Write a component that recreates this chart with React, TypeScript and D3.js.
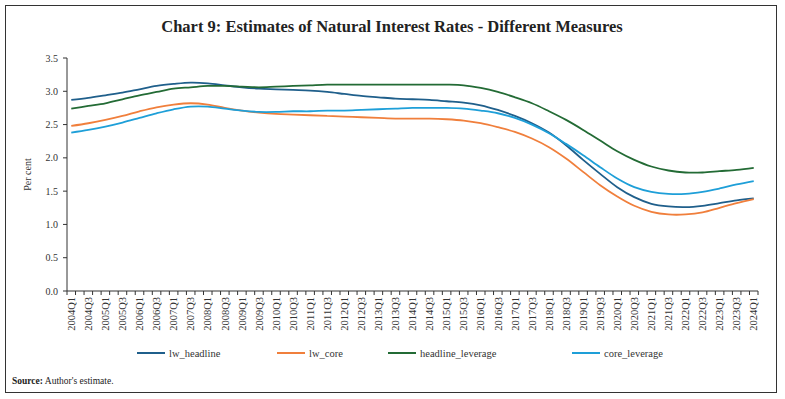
import React from "react";
import * as d3 from "d3";

// quarterly categories on the x axis
const quarters: string[] = [
  "2004Q1","2004Q2","2004Q3","2004Q4","2005Q1","2005Q2","2005Q3","2005Q4",
  "2006Q1","2006Q2","2006Q3","2006Q4","2007Q1","2007Q2","2007Q3","2007Q4",
  "2008Q1","2008Q2","2008Q3","2008Q4","2009Q1","2009Q2","2009Q3","2009Q4",
  "2010Q1","2010Q2","2010Q3","2010Q4","2011Q1","2011Q2","2011Q3","2011Q4",
  "2012Q1","2012Q2","2012Q3","2012Q4","2013Q1","2013Q2","2013Q3","2013Q4",
  "2014Q1","2014Q2","2014Q3","2014Q4","2015Q1","2015Q2","2015Q3","2015Q4",
  "2016Q1","2016Q2","2016Q3","2016Q4","2017Q1","2017Q2","2017Q3","2017Q4",
  "2018Q1","2018Q2","2018Q3","2018Q4","2019Q1","2019Q2","2019Q3","2019Q4",
  "2020Q1","2020Q2","2020Q3","2020Q4","2021Q1","2021Q2","2021Q3","2021Q4",
  "2022Q1","2022Q2","2022Q3","2022Q4","2023Q1","2023Q2","2023Q3","2023Q4",
  "2024Q1",
];

// labelled quarters (every second one) - the series below are read at these
const labelQuarters = quarters.filter((_, i) => i % 2 === 0);

const lwHeadline = [
  2.87, 2.90, 2.94, 2.98, 3.03, 3.08, 3.11, 3.13, 3.12, 3.09,
  3.06, 3.04, 3.03, 3.02, 3.01, 2.99, 2.96, 2.93, 2.91, 2.89,
  2.88, 2.87, 2.85, 2.83, 2.79, 2.72, 2.63, 2.52, 2.38, 2.19,
  1.97, 1.76, 1.56, 1.41, 1.31, 1.27, 1.26, 1.28, 1.32, 1.36,
  1.39,
];

const lwCore = [
  2.48, 2.52, 2.57, 2.63, 2.70, 2.76, 2.80, 2.82, 2.80, 2.75,
  2.71, 2.68, 2.66, 2.65, 2.64, 2.63, 2.62, 2.61, 2.60, 2.59,
  2.59, 2.59, 2.58, 2.56, 2.52, 2.46, 2.39, 2.29, 2.16, 1.99,
  1.79, 1.59, 1.42, 1.28, 1.19, 1.15, 1.15, 1.18, 1.25, 1.32,
  1.38,
];

const headlineLeverage = [
  2.74, 2.78, 2.82, 2.88, 2.94, 2.99, 3.04, 3.06, 3.08, 3.08,
  3.07, 3.06, 3.07, 3.08, 3.09, 3.10, 3.10, 3.10, 3.10, 3.10,
  3.10, 3.10, 3.10, 3.09, 3.05, 2.99, 2.91, 2.82, 2.70, 2.57,
  2.42, 2.26, 2.10, 1.97, 1.87, 1.81, 1.78, 1.78, 1.80, 1.82,
  1.85,
];

const coreLeverage = [
  2.38, 2.42, 2.47, 2.53, 2.60, 2.67, 2.73, 2.77, 2.77, 2.74,
  2.71, 2.69, 2.69, 2.70, 2.70, 2.71, 2.71, 2.72, 2.73, 2.74,
  2.75, 2.75, 2.75, 2.74, 2.71, 2.67, 2.60, 2.50, 2.37, 2.21,
  2.04, 1.86, 1.69, 1.56, 1.49, 1.46, 1.46, 1.49, 1.54, 1.60,
  1.65,
];

const yTicks = [0, 0.5, 1, 1.5, 2, 2.5, 3, 3.5];

const seriesNames = ["lw_headline", "lw_core", "headline_leverage", "core_leverage"];
const seriesValues = [lwHeadline, lwCore, headlineLeverage, coreLeverage];
const seriesColors = ["#1f5f8b", "#f07f3c", "#236b35", "#1e9fd8"];

const W = 785;
const H = 399;
const margin = { top: 58, left: 67, right: 27, bottom: 108 };
const font = "'Liberation Serif', 'DejaVu Serif', serif";

export default function App() {
  const plotBottom = H - margin.bottom;

  const x = d3.scaleBand<string>()
    .domain(quarters)
    .range([margin.left, W - margin.right])
    .paddingInner(0)
    .paddingOuter(0);

  const y = d3.scaleLinear()
    .domain([0, 3.5])
    .range([plotBottom, margin.top]);

  const cx = (q: string) => (x(q) as number) + x.bandwidth() / 2;

  const line = d3.line<number>()
    .x((_, i) => cx(labelQuarters[i]))
    .y(d => y(d))
    .curve(d3.curveCatmullRom.alpha(0.5));

  // tick marks at category boundaries
  const boundaries = quarters.map(q => x(q) as number).concat([W - margin.right]);

  const legendX = [137, 277, 388, 572];

  return (
    <svg width={W} height={H} style={{ position: "absolute", left: 0, top: 0, background: "#fff" }}>
      <rect x={5.5} y={5.5} width={771} height={387} fill="none" stroke="#333" strokeWidth={1} />

      <text x={392} y={32} textAnchor="middle" fontFamily={font} fontSize={16.5} fontWeight={600} fill="#222">
        Chart 9: Estimates of Natural Interest Rates - Different Measures
      </text>

      {/* y axis */}
      <line x1={margin.left} x2={margin.left} y1={margin.top} y2={plotBottom} stroke="#333" strokeWidth={1} />
      {yTicks.map(t => (
        <g key={t}>
          <line x1={margin.left - 4} x2={margin.left} y1={y(t)} y2={y(t)} stroke="#333" />
          <text x={margin.left - 9} y={y(t) + 3.5} textAnchor="end" fontFamily={font} fontSize={10} fill="#333">
            {d3.format(".1f")(t)}
          </text>
        </g>
      ))}
      <text transform={`translate(31,${(margin.top + plotBottom) / 2}) rotate(-90)`} textAnchor="middle"
        fontFamily={font} fontSize={10} fill="#333">Per cent</text>

      {/* x axis */}
      <line x1={margin.left} x2={W - margin.right} y1={plotBottom} y2={plotBottom} stroke="#333" />
      {boundaries.map((b, i) => (
        <line key={i} x1={b} x2={b} y1={plotBottom} y2={plotBottom + 4} stroke="#333" />
      ))}
      {labelQuarters.map(q => (
        <text key={q} transform={`translate(${cx(q) + 3.7},${plotBottom + 6}) rotate(-90)`} textAnchor="end"
          fontFamily={font} fontSize={10.5} fill="#333">{q}</text>
      ))}

      {/* series */}
      {seriesValues.map((vals, k) => (
        <path key={seriesNames[k]} d={line(vals) as string} fill="none" stroke={seriesColors[k]} strokeWidth={1.8} />
      ))}

      {/* legend */}
      {seriesNames.map((n, k) => (
        <g key={n}>
          <line x1={legendX[k]} x2={legendX[k] + 28} y1={353} y2={353} stroke={seriesColors[k]} strokeWidth={2} />
          <text x={legendX[k] + 32} y={357} fontFamily={font} fontSize={10.5} fill="#333">{n}</text>
        </g>
      ))}

      <text x={12} y={384} fontFamily={font} fontSize={9.5} fill="#222">
        <tspan fontWeight="bold">Source:</tspan> Author's estimate.
      </text>
    </svg>
  );
}
